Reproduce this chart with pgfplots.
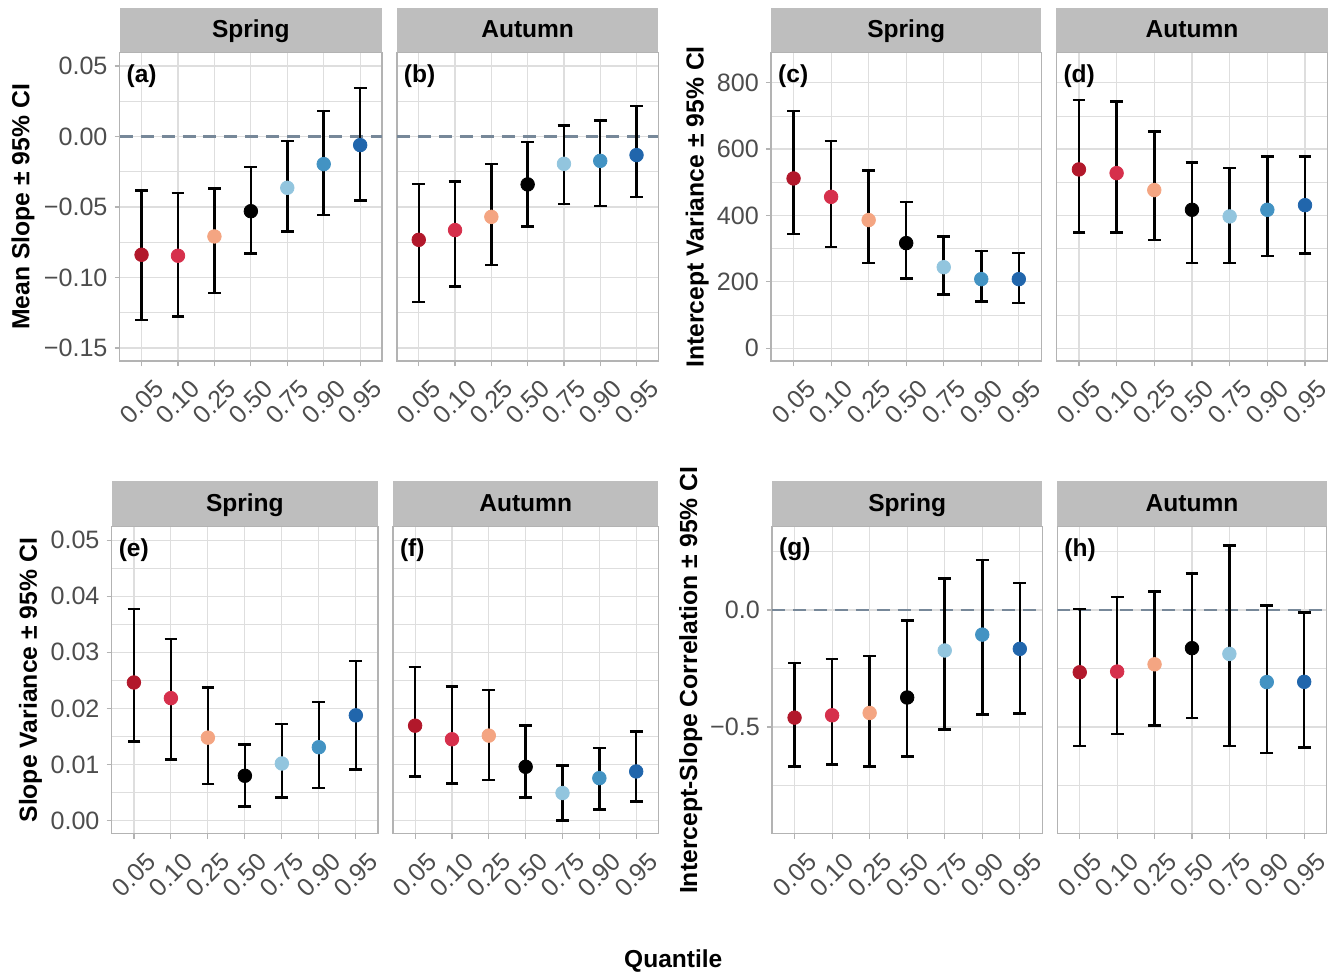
\documentclass[border=0pt]{standalone}
\usepackage{fontspec}
\setmainfont{Liberation Sans}
\usepackage{pgfplots}
\pgfplotsset{compat=1.18}
\usepackage{pgfplotstable}

\definecolor{qc1}{HTML}{B2182B}
\definecolor{qc2}{HTML}{D6304C}
\definecolor{qc3}{HTML}{F4A582}
\definecolor{qc4}{HTML}{000000}
\definecolor{qc5}{HTML}{92C5DE}
\definecolor{qc6}{HTML}{4393C3}
\definecolor{qc7}{HTML}{2166AC}
\definecolor{stripgray}{HTML}{BEBEBE}
\definecolor{gridgray}{HTML}{DEDEDE}
\definecolor{bordergray}{HTML}{B3B3B3}
\definecolor{ticktext}{HTML}{4D4D4D}
\definecolor{zeroline}{HTML}{778899}

% x = quantile index, m = estimate, lo/hi = 95% CI
\pgfplotstableread{
x m lo hi c
1 -0.0839 -0.1300 -0.0383 q1
2 -0.0846 -0.1277 -0.0400 q2
3 -0.0709 -0.1109 -0.0369 q3
4 -0.0530 -0.0830 -0.0215 q4
5 -0.0364 -0.0674 -0.0031 q5
6 -0.0196 -0.0558 0.0180 q6
7 -0.0061 -0.0454 0.0345 q7
}\slopeSpring
\pgfplotstableread{
x m lo hi c
1 -0.0733 -0.1173 -0.0336 q1
2 -0.0664 -0.1064 -0.0319 q2
3 -0.0570 -0.0910 -0.0196 q3
4 -0.0340 -0.0638 -0.0040 q4
5 -0.0194 -0.0480 0.0078 q5
6 -0.0173 -0.0492 0.0113 q6
7 -0.0132 -0.0430 0.0215 q7
}\slopeAutumn
\pgfplotstableread{
x m lo hi c
1 511.5 343.7 714.6 q1
2 456.0 305.5 625.0 q2
3 386.0 257.0 535.0 q3
4 316.6 210.0 440.0 q4
5 244.0 161.0 336.5 q5
6 208.0 140.7 293.5 q6
7 208.0 136.7 286.4 q7
}\intvarSpring
\pgfplotstableread{
x m lo hi c
1 538.7 348.7 747.7 q1
2 527.6 348.7 742.7 q2
3 476.4 326.6 653.0 q3
4 417.0 256.0 560.0 q4
5 397.0 256.0 542.7 q5
6 417.0 277.0 578.0 q6
7 431.0 285.0 578.0 q7
}\intvarAutumn
\pgfplotstableread{
x m lo hi c
1 0.02462 0.01408 0.03775 q1
2 0.02183 0.01089 0.03237 q2
3 0.01479 0.00651 0.02373 q3
4 0.00799 0.00254 0.01355 q4
5 0.01018 0.00408 0.01722 q5
6 0.01308 0.00580 0.02112 q6
7 0.01876 0.00911 0.02846 q7
}\slopevarSpring
\pgfplotstableread{
x m lo hi c
1 0.01692 0.00787 0.02734 q1
2 0.01450 0.00657 0.02390 q2
3 0.01515 0.00722 0.02331 q3
4 0.00959 0.00408 0.01698 q4
5 0.00491 0.00006 0.00982 q5
6 0.00757 0.00195 0.01296 q6
7 0.00876 0.00337 0.01592 q7
}\slopevarAutumn
\pgfplotstableread{
x m lo hi c
1 -0.460 -0.668 -0.227 q1
2 -0.450 -0.660 -0.210 q2
3 -0.440 -0.668 -0.196 q3
4 -0.374 -0.626 -0.044 q4
5 -0.173 -0.510 0.135 q5
6 -0.105 -0.447 0.214 q6
7 -0.166 -0.442 0.116 q7
}\corSpring
\pgfplotstableread{
x m lo hi c
1 -0.266 -0.582 0.004 q1
2 -0.263 -0.531 0.055 q2
3 -0.232 -0.494 0.080 q3
4 -0.163 -0.462 0.156 q4
5 -0.1875 -0.581 0.276 q5
6 -0.308 -0.612 0.020 q6
7 -0.307 -0.587 -0.010 q7
}\corAutumn

\pgfplotsset{
  facet/.style 2 args={
    scale only axis, width=#1, height=154.5pt,
    anchor=south west,
    xmin=0.4, xmax=7.6,
    xtick={1,...,7},
    xticklabels={0.05,0.10,0.25,0.50,0.75,0.90,0.95},
    scaled ticks=false,
    xmajorgrids, ymajorgrids, yminorgrids,
    major grid style={gridgray, line width=0.6pt},
    minor grid style={gridgray, line width=0.35pt},
    axis line style={bordergray, line width=0.6pt},
    tick style={bordergray, line width=0.6pt},
    tick align=outside, major tick length=2.6pt, minor tick length=0pt,
    xtick pos=bottom, ytick pos=left,
    ticklabel style={font=\fontsize{12.6}{14}\selectfont, text=ticktext},
    xticklabel style={anchor=center, yshift=-18pt, rotate=45},
    title=#2,
    every axis title shift=0pt,
    title style={at={(0.5,1)}, anchor=south, yshift=0pt, fill=stripgray,
      inner sep=0pt, minimum width=#1, minimum height=22.5pt,
      text height=0.84em, text depth=0.06em,
      font=\bfseries\fontsize{12.3}{14}\selectfont},
    ylabel style={anchor=center, font=\bfseries\fontsize{12.4}{14}\selectfont},
  },
  autumn/.style={yticklabels={}, ytick style={draw=none}},
}

\newcommand{\tag}[1]{\node[anchor=west, inner sep=0pt,
  font=\bfseries\fontsize{12.3}{14}\selectfont]
  at (rel axis cs:0.025,0.925) {#1};}
\newcommand{\zero}{\addplot[zeroline, line width=1.2pt, dash pattern=on 6.5pt off 4pt]
  coordinates {(0.4,0) (7.6,0)};}
\newcommand{\points}[1]{%
  \addplot[only marks, mark=none,
    error bars/.cd, y dir=both, y explicit,
    error bar style={black, line width=1.25pt},
    error mark options={black, rotate=90, mark size=3.2pt, line width=1.25pt}]
    table[x=x, y=m, y error plus expr=\thisrow{hi}-\thisrow{m},
      y error minus expr=\thisrow{m}-\thisrow{lo}] {#1};
  \addplot[scatter, only marks, mark=*, mark size=3.4pt,
    scatter src=explicit symbolic,
    scatter/classes={q1={mark=*,qc1}, q2={mark=*,qc2}, q3={mark=*,qc3},
      q4={mark=*,qc4}, q5={mark=*,qc5}, q6={mark=*,qc6}, q7={mark=*,qc7}}]
    table[x=x, y=m, meta=c] {#1};
}

\begin{document}
\begin{tikzpicture}[x=1pt, y=1pt]
\path (0,0) rectangle (669,486);

% ---- (a) (b) mean slope
\begin{axis}[facet={131.5pt}{Spring}, at={(60pt,305pt)},
  ymin=-0.1593, ymax=0.0593,
  ytick={-0.15,-0.10,-0.05,0,0.05},
  yticklabels={−0.15,−0.10,−0.05,0.00,0.05},
  minor ytick={-0.125,-0.075,-0.025,0.025},
  ylabel={Mean Slope ± 95\% CI},
  ylabel style={at={(axis description cs:-0.369,0.5)}}]
\zero
\points{\slopeSpring}
\tag{(a)}
\end{axis}
\begin{axis}[facet={131pt}{Autumn}, autumn, at={(199pt,305pt)},
  ymin=-0.1593, ymax=0.0593,
  ytick={-0.15,-0.10,-0.05,0,0.05},
  minor ytick={-0.125,-0.075,-0.025,0.025}]
\zero
\points{\slopeAutumn}
\tag{(b)}
\end{axis}

% ---- (c) (d) intercept variance
\begin{axis}[facet={135.5pt}{Spring}, at={(386.5pt,305pt)},
  ymin=-39, ymax=890,
  ytick={0,200,400,600,800},
  yticklabels={0,200,400,600,800},
  minor ytick={100,300,500,700},
  ylabel={Intercept Variance ± 95\% CI},
  ylabel style={at={(axis description cs:-0.273,0.5)}}]
\points{\intvarSpring}
\tag{(c)}
\end{axis}
\begin{axis}[facet={136pt}{Autumn}, autumn, at={(529.5pt,305pt)},
  ymin=-39, ymax=890,
  ytick={0,200,400,600,800},
  minor ytick={100,300,500,700}]
\points{\intvarAutumn}
\tag{(d)}
\end{axis}

% ---- (e) (f) slope variance
\begin{axis}[facet={133.5pt}{Spring}, at={(56pt,68pt)}, height=154pt,
  ymin=-0.00237, ymax=0.0524,
  ytick={0,0.01,0.02,0.03,0.04,0.05},
  yticklabels={0.00,0.01,0.02,0.03,0.04,0.05},
  minor ytick={0.005,0.015,0.025,0.035,0.045},
  ylabel={Slope Variance ± 95\% CI},
  ylabel style={at={(axis description cs:-0.305,0.5)}}]
\points{\slopevarSpring}
\tag{(e)}
\end{axis}
\begin{axis}[facet={133pt}{Autumn}, autumn, at={(197pt,68pt)}, height=154pt,
  ymin=-0.00237, ymax=0.0524,
  ytick={0,0.01,0.02,0.03,0.04,0.05},
  minor ytick={0.005,0.015,0.025,0.035,0.045}]
\points{\slopevarAutumn}
\tag{(f)}
\end{axis}

% ---- (g) (h) intercept-slope correlation
\begin{axis}[facet={135.5pt}{Spring}, at={(387pt,68pt)}, height=154pt,
  ymin=-0.957, ymax=0.3565,
  ytick={-0.5,0},
  yticklabels={−0.5,0.0},
  minor ytick={-0.75,-0.25,0.25},
  ylabel={Intercept-Slope Correlation ± 95\% CI},
  ylabel style={at={(axis description cs:-0.301,0.5)}}]
\zero
\points{\corSpring}
\tag{(g)}
\end{axis}
\begin{axis}[facet={135pt}{Autumn}, autumn, at={(530pt,68pt)}, height=154pt,
  ymin=-0.957, ymax=0.3565,
  ytick={-0.5,0},
  minor ytick={-0.75,-0.25,0.25}]
\zero
\points{\corAutumn}
\tag{(h)}
\end{axis}

\node[inner sep=0pt, font=\bfseries\fontsize{12.3}{14}\selectfont] at (337.5,4.2) {Quantile};
\end{tikzpicture}
\end{document}
